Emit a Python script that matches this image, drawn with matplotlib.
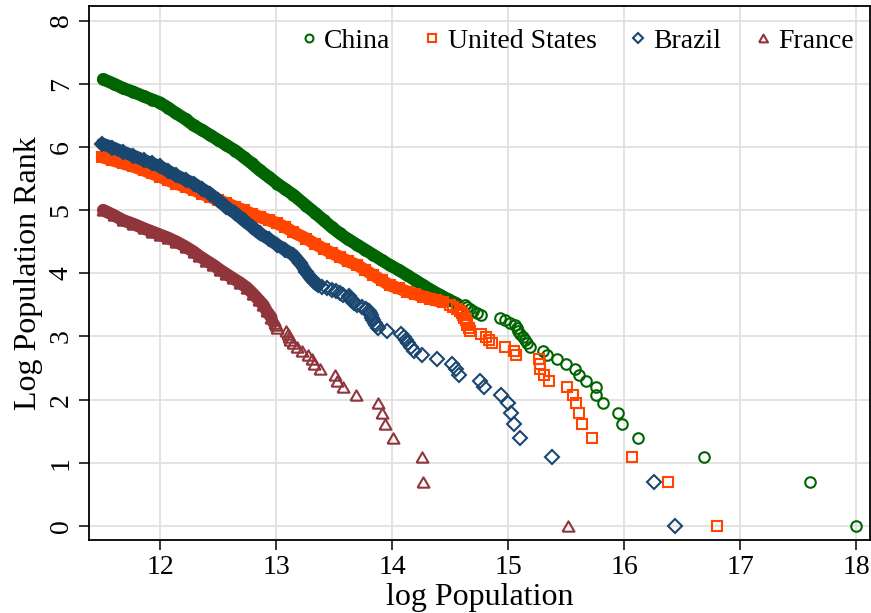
"""Log rank vs log population for city sizes in four countries."""

import matplotlib
matplotlib.use("Agg")
import matplotlib.pyplot as plt
import numpy as np

plt.rcParams["font.family"] = ["Liberation Serif", "DejaVu Serif"]

# ---- data -----------------------------------------------------------------
# individual, clearly separated points: log rank = ln(rank) for ranks 1..k
china_ranks = list(range(1, 34))
china_pop = [18.00, 17.60, 16.69, 16.12, 15.98, 15.95, 15.82, 15.76, 15.76, 15.67,
             15.61, 15.58, 15.50, 15.42, 15.34, 15.30, 15.19, 15.16, 15.15, 15.13,
             15.10, 15.09, 15.08, 15.06, 15.02, 14.97, 14.93, 14.77, 14.73, 14.70,
             14.67, 14.65, 14.63]
us_ranks = list(range(1, 34))
us_pop = [16.80, 16.38, 16.07, 15.72, 15.64, 15.61, 15.59, 15.56, 15.51, 15.35,
          15.31, 15.28, 15.28, 15.27, 15.07, 15.05, 14.97, 14.86, 14.84, 14.81,
          14.77, 14.67, 14.66, 14.65, 14.65, 14.64, 14.62, 14.61, 14.60, 14.59,
          14.56, 14.53, 14.50]
brazil_ranks = list(range(1, 45))
brazil_pop = [16.44, 16.26, 15.38, 15.10, 15.05, 15.03, 15.00, 14.94, 14.79, 14.76,
              14.58, 14.55, 14.52, 14.39, 14.26, 14.19, 14.16, 14.14, 14.12, 14.10,
              14.08, 13.96, 13.88, 13.86, 13.85, 13.84, 13.83, 13.82, 13.81, 13.80,
              13.78, 13.74, 13.70, 13.67, 13.66, 13.65, 13.64, 13.63, 13.58, 13.55,
              13.52, 13.48, 13.44, 13.40]
france_ranks = list(range(1, 27))
france_pop = [15.52, 14.27, 14.26, 14.01, 13.94, 13.91, 13.88, 13.69, 13.58, 13.53,
              13.51, 13.38, 13.33, 13.31, 13.28, 13.22, 13.18, 13.15, 13.12, 13.11,
              13.10, 13.09, 13.01, 13.00, 12.99, 12.98]

# dense part of each distribution, traced along the band (log pop, log rank)
china_body_pop = [11.51, 11.60, 11.68, 11.77, 11.86, 11.93, 12.00, 12.07, 12.14, 12.22,
                  12.29, 12.36, 12.43, 12.50, 12.57, 12.65, 12.72, 12.79, 12.86, 12.94,
                  13.01, 13.08, 13.15, 13.26, 13.34, 13.41, 13.48, 13.55, 13.62, 13.70,
                  13.77, 13.84, 13.91, 13.98, 14.06, 14.13, 14.20, 14.27, 14.34, 14.41,
                  14.48, 14.56]
china_body_rank = [7.07, 7.00, 6.93, 6.87, 6.80, 6.75, 6.70, 6.62, 6.53, 6.44,
                   6.34, 6.27, 6.19, 6.11, 6.03, 5.94, 5.84, 5.74, 5.63, 5.52,
                   5.42, 5.33, 5.24, 5.07, 4.95, 4.84, 4.73, 4.63, 4.54, 4.45,
                   4.37, 4.29, 4.21, 4.13, 4.05, 3.97, 3.89, 3.81, 3.73, 3.66,
                   3.59, 3.52]
us_body_pop = [11.50, 11.59, 11.68, 11.77, 11.86, 11.93, 12.00, 12.07, 12.14, 12.22,
               12.29, 12.36, 12.43, 12.50, 12.57, 12.65, 12.72, 12.79, 12.86, 12.94,
               13.01, 13.08, 13.15, 13.26, 13.34, 13.41, 13.48, 13.55, 13.62, 13.70,
               13.77, 13.84, 13.91, 13.98, 14.06, 14.13, 14.20, 14.27, 14.33, 14.38,
               14.44]
us_body_rank = [5.84, 5.79, 5.74, 5.69, 5.63, 5.58, 5.53, 5.47, 5.42, 5.37,
                5.32, 5.26, 5.21, 5.16, 5.11, 5.05, 5.00, 4.94, 4.89, 4.84,
                4.79, 4.73, 4.65, 4.55, 4.46, 4.39, 4.32, 4.26, 4.19, 4.13,
                4.05, 3.97, 3.89, 3.81, 3.76, 3.71, 3.67, 3.63, 3.60, 3.57,
                3.55]
brazil_body_pop = [11.50, 11.59, 11.68, 11.77, 11.86, 11.93, 12.00, 12.07, 12.14, 12.22,
                   12.29, 12.36, 12.43, 12.50, 12.57, 12.65, 12.72, 12.79, 12.86, 12.94,
                   13.01, 13.08, 13.15, 13.21, 13.26, 13.30, 13.36]
brazil_body_rank = [6.05, 5.99, 5.92, 5.86, 5.79, 5.74, 5.69, 5.62, 5.55, 5.48,
                    5.42, 5.34, 5.26, 5.16, 5.05, 4.95, 4.84, 4.74, 4.63, 4.54,
                    4.45, 4.37, 4.29, 4.16, 4.02, 3.92, 3.81]
france_body_pop = [11.51, 11.60, 11.68, 11.77, 11.86, 11.93, 12.00, 12.07, 12.14, 12.22,
                   12.29, 12.34, 12.40, 12.46, 12.52, 12.57, 12.63, 12.69, 12.75, 12.80,
                   12.85, 12.89, 12.92, 12.96]
france_body_rank = [5.00, 4.92, 4.84, 4.78, 4.71, 4.66, 4.61, 4.56, 4.50, 4.42,
                    4.34, 4.27, 4.20, 4.13, 4.05, 3.99, 3.92, 3.85, 3.77, 3.68,
                    3.58, 3.50, 3.40, 3.30]

labels = ["China", "United States", "Brazil", "France"]
colors = ["#006400", "#ff4500", "#1a476f", "#90353b"]

TRIANGLE = [(-1.0, -0.866), (1.0, -0.866), (0.0, 0.866), (-1.0, -0.866)]


def main() -> int:
    fig = plt.figure(figsize=(8.71, 6.13), dpi=100)
    ax = fig.add_axes([0.1022, 0.119, 0.8967, 0.871])

    series = [
        (china_pop, china_ranks, china_body_pop, china_body_rank, "o", 7.6),
        (us_pop, us_ranks, us_body_pop, us_body_rank, "s", 7.0),
        (brazil_pop, brazil_ranks, brazil_body_pop, brazil_body_rank, "D", 6.8),
        (france_pop, france_ranks, france_body_pop, france_body_rank, TRIANGLE, 8.6),
    ]
    for (pop, ranks, bpop, brank, marker, ms), label, color in zip(series, labels, colors):
        ax.plot(bpop, brank, color=color, lw=9, solid_capstyle="round",
                solid_joinstyle="round", zorder=2)
        ax.plot(bpop, brank, ls="none", marker=marker, ms=ms, mew=1.5,
                mfc="none", mec=color, zorder=2)
        ax.plot(pop, np.log(ranks), ls="none", marker=marker, ms=ms, mew=1.5,
                mfc="none", mec=color, label=label, zorder=3)

    ax.set_xlim(11.388, 18.121)
    ax.set_ylim(-0.222, 8.228)
    ax.set_xticks(range(12, 19))
    ax.set_yticks(range(0, 9))
    ax.grid(True, color="#e0e0e0", lw=1.3)
    ax.set_axisbelow(True)
    for side in ax.spines.values():
        side.set_linewidth(1.3)
    ax.tick_params(axis="both", direction="out", length=7, width=1.1,
                   labelsize=20, pad=4)
    for lab in ax.get_yticklabels():
        lab.set_rotation(90)
        lab.set_va("center")
    ax.set_xlabel("log Population", fontsize=23, labelpad=2)
    ax.set_ylabel("Log Population Rank", fontsize=23, labelpad=4)

    ax.legend(loc="upper right", ncol=4, frameon=False, fontsize=20,
              markerscale=0.75, handlelength=0.6, handletextpad=0.25,
              columnspacing=1.2, borderaxespad=0.35, bbox_to_anchor=(1.006, 0.997))

    fig.savefig("out.png", dpi=100)
    plt.close(fig)
    return 0


if __name__ == "__main__":
    raise SystemExit(main())
